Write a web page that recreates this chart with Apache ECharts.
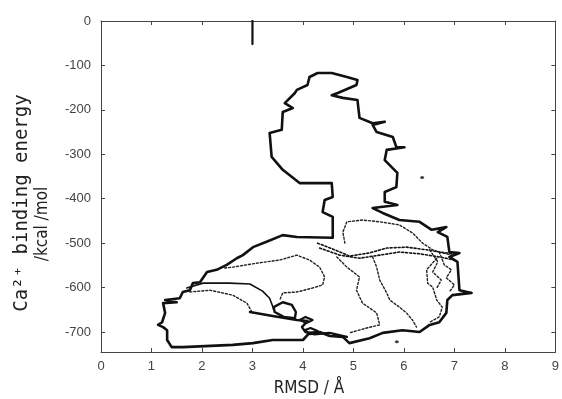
<!DOCTYPE html>
<html><head><meta charset="utf-8">
<script src="https://cdn.jsdelivr.net/npm/echarts@6/dist/echarts.min.js"></script>
<style>html,body{margin:0;padding:0;background:#fff}#c{width:562px;height:399px}</style>
</head><body><div id="c"></div>
<script>
// Axis ticks
const xTicks = [0,1,2,3,4,5,6,7,8,9];
const yTicks = [-700,-600,-500,-400,-300,-200,-100,0];

// Outer (thick solid) contour, RMSD (Å) vs energy (kcal/mol)
const outerX = [1.40,1.31,1.31,1.23,1.13,1.21,1.27,1.23,1.50,1.27,1.56,1.62,1.76,1.82,1.96,2.10,2.29,2.49,2.69,2.81,3.01,3.28,3.60,3.88,4.59,
  4.59,4.39,4.43,4.59,4.57,3.94,3.60,3.38,3.34,3.58,3.60,3.80,3.64,3.84,3.88,4.09,4.13,4.29,4.57,4.87,5.08,5.06,4.69,4.57,4.79,5.08,5.12,5.38,5.62,5.38,5.46,5.78,5.85,6.01,5.66,5.62,5.87,5.85,5.62,5.62,5.87,5.38,5.58,5.91,6.31,6.55,6.84,6.67,6.86,6.90,7.10,6.90,7.06,7.10,7.34,6.96,6.86,6.84,6.70,6.51,6.31,5.97,5.58,5.32,4.92,4.79,4.53,4.33,4.13,4.00,3.40,3.01,2.61,1.62,1.40];
const outerY = [-734,-718,-696,-689,-684,-678,-657,-635,-633,-628,-624,-610,-606,-590,-588,-565,-560,-549,-534,-527,-509,-497,-482,-486,-488,
  -441,-430,-403,-396,-365,-365,-335,-306,-252,-245,-205,-196,-185,-162,-155,-144,-126,-117,-117,-126,-133,-144,-162,-167,-173,-178,-218,-230,-227,-234,-250,-261,-284,-284,-290,-313,-342,-374,-385,-407,-414,-421,-432,-448,-452,-470,-464,-475,-486,-520,-522,-531,-542,-606,-612,-617,-628,-657,-678,-684,-700,-696,-702,-714,-725,-711,-709,-700,-702,-718,-718,-725,-729,-734,-734];

// Thin solid contour
const thinX = [1.70,2.02,2.55,2.95,3.20,3.34,3.40,3.42];
const thinY = [-601,-590,-590,-592,-608,-624,-642,-650];

// Thick inner segment and small thick loops
const thickX = [2.95,3.40,3.88,4.09,3.98,4.05,4.23,4.53,4.87];
const thickY = [-655,-664,-673,-675,-689,-700,-705,-702,-711];
const loop1X = [3.42,3.60,3.78,3.86,3.84,3.62,3.44,3.42];
const loop1Y = [-644,-633,-639,-655,-669,-666,-655,-644];
const loop2X = [3.94,4.05,4.19,4.07,3.94];
const loop2Y = [-673,-666,-673,-680,-673];
const loop3X = [4.03,4.15,4.29,4.15,4.03];
const loop3Y = [-696,-691,-698,-705,-696];

// Dotted contours
const dotAX = [1.76,2.16,2.61,2.89,2.99];
const dotAY = [-610,-606,-617,-635,-655];
const dotBX = [2.45,2.61,3.09,3.54,3.88,4.13,4.33,4.43,4.39,4.19,3.88,3.60,3.54];
const dotBY = [-556,-554,-545,-538,-527,-538,-554,-576,-594,-601,-610,-612,-628];
const dotCX = [4.83,4.79,4.87,5.18,5.52,5.91,6.17,6.37,6.57,6.76,6.96];
const dotCY = [-500,-475,-452,-448,-452,-459,-477,-500,-515,-522,-527];
const dotB1X = [4.29,4.63,4.92,5.32,5.66,6.05,6.45,6.70,7.00];
const dotB1Y = [-500,-515,-529,-522,-511,-509,-515,-520,-524];
const dotB2X = [4.33,4.73,5.12,5.52,5.91,6.31,6.70,7.00];
const dotB2Y = [-511,-527,-534,-527,-520,-524,-531,-538];
const dotDX = [4.67,4.87,5.12,5.06,5.18,5.46,5.52,5.26,4.92];
const dotDY = [-531,-554,-576,-606,-635,-657,-684,-691,-702];
const dotEX = [5.38,5.46,5.52,5.66,5.72,5.91,6.05,6.17,6.25];
const dotEY = [-531,-554,-583,-612,-628,-644,-657,-673,-689];
const dotFX = [6.65,6.45,6.47,6.57,6.65,6.76,6.70,6.51];
const dotFY = [-534,-560,-590,-599,-628,-644,-666,-678];
const dotGX = [6.70,6.80,6.94,6.84,7.00,6.90];
const dotGY = [-520,-549,-560,-578,-594,-610];
const dotHX = [6.51,6.67,6.57,6.74,6.65];
const dotHY = [-515,-542,-565,-583,-601];

// Isolated marks
const spikeX = [3.0,3.0];
const spikeY = [0,-52];
const dotsX = [6.36,5.86];
const dotsY = [-352,-722];

const pairs = (xs, ys) => xs.map((x, i) => [x, ys[i]]);
const BLACK = '#111';
function line(xs, ys, width, type, color) {
  return { type: 'line', data: pairs(xs, ys), showSymbol: false, symbol: 'none', smooth: false,
    animation: false, silent: true, z: width > 2 ? 3 : 2,
    lineStyle: { color: color || BLACK, width: width, type: type || 'solid', join: 'round', cap: 'round' } };
}
const dotted = [2, 2];

const chart = echarts.init(document.getElementById('c'), null, { renderer: 'canvas' });
const axisCommon = { lineStyle: { color: '#444', width: 1 } };
chart.setOption({
  animation: false,
  backgroundColor: '#fff',
  grid: { left: 101, top: 21, width: 455, height: 331, show: false },
  xAxis: [
    { type: 'value', min: 0, max: 9, interval: 1, position: 'bottom',
      axisLine: { show: true, onZero: false, ...axisCommon },
      axisTick: { show: true, inside: true, length: 4, ...axisCommon },
      axisLabel: { color: '#444', fontSize: 13, fontFamily: 'Liberation Sans', margin: 8,
        customValues: xTicks },
      splitLine: { show: false } },
    { type: 'value', min: 0, max: 9, interval: 1, position: 'top',
      axisLine: { show: true, onZero: false, ...axisCommon },
      axisTick: { show: true, inside: true, length: 4, ...axisCommon },
      axisLabel: { show: false }, splitLine: { show: false } }
  ],
  yAxis: [
    { type: 'value', min: -745, max: 0, position: 'left',
      axisLine: { show: true, onZero: false, ...axisCommon },
      axisTick: { show: true, inside: true, length: 4, customValues: yTicks, ...axisCommon },
      axisLabel: { color: '#444', fontSize: 13, fontFamily: 'Liberation Sans', margin: 10,
        customValues: yTicks, formatter: v => String(v).replace('\u2212', '-') },
      splitLine: { show: false } },
    { type: 'value', min: -745, max: 0, position: 'right',
      axisLine: { show: true, onZero: false, ...axisCommon },
      axisTick: { show: true, inside: true, length: 4, customValues: yTicks, ...axisCommon },
      axisLabel: { show: false }, splitLine: { show: false } }
  ],
  graphic: [
    { type: 'text', x: 22, y: 203, rotation: Math.PI / 2,
      style: { text: 'Ca\u00B2\u207A binding energy', fill: '#222', font: '19px "DejaVu Sans Mono"',
        align: 'center', verticalAlign: 'middle' } },
    { type: 'text', x: 43, y: 224, rotation: Math.PI / 2,
      style: { text: '/kcal /mol', fill: '#222', font: '17px "DejaVu Sans Condensed"',
        align: 'center', verticalAlign: 'middle' } },
    { type: 'text', x: 309, y: 389,
      style: { text: 'RMSD / \u00C5', fill: '#222', font: '17px "DejaVu Sans Condensed"',
        align: 'center', verticalAlign: 'middle' } }
  ],
  series: [
    line(outerX, outerY, 2.6),
    line(thinX, thinY, 1.6),
    line(thickX, thickY, 2.4),
    line(loop1X, loop1Y, 2.4),
    line(loop2X, loop2Y, 2.2),
    line(loop3X, loop3Y, 2.2),
    line(dotAX, dotAY, 1.4, dotted, '#222'),
    line(dotBX, dotBY, 1.4, dotted, '#222'),
    line(dotCX, dotCY, 1.4, dotted, '#222'),
    line(dotB1X, dotB1Y, 1.6, dotted, '#111'),
    line(dotB2X, dotB2Y, 1.6, dotted, '#111'),
    line(dotDX, dotDY, 1.4, dotted, '#222'),
    line(dotEX, dotEY, 1.4, dotted, '#222'),
    line(dotFX, dotFY, 1.4, dotted, '#222'),
    line(dotGX, dotGY, 1.4, dotted, '#222'),
    line(dotHX, dotHY, 1.4, dotted, '#222'),
    line(spikeX, spikeY, 2.2),
    { type: 'scatter', data: pairs(dotsX, dotsY), symbol: 'circle', symbolSize: [4, 3],
      itemStyle: { color: BLACK }, silent: true, animation: false }
  ]
});
</script></body></html>
